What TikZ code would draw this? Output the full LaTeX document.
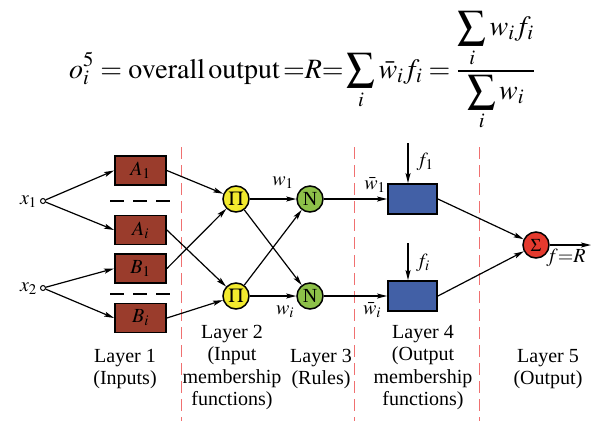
\documentclass[tikz,border=0pt]{standalone}
\usepackage{mathptmx}
\usepackage{fontspec}
\setmainfont{Liberation Serif}
\usetikzlibrary{arrows.meta}
\definecolor{brownfill}{RGB}{154,60,44}
\definecolor{bluefill}{RGB}{66,96,166}
\definecolor{yellowfill}{RGB}{242,234,46}
\definecolor{greenfill}{RGB}{141,192,73}
\definecolor{redfill}{RGB}{229,58,46}
\definecolor{redline}{RGB}{240,112,112}
\begin{document}
\begin{tikzpicture}[x=1pt,y=-1pt,
  lbl/.style={font=\fontsize{20}{22.5}\selectfont, align=center, inner sep=0pt},
  layercap/.style={font=\fontsize{20}{22.5}\selectfont, align=center, inner sep=0pt, anchor=north},
  mbox/.style={draw=black, line width=1.8pt, fill=brownfill, minimum width=51pt, minimum height=29pt, inner sep=0pt, font=\fontsize{20}{22}\selectfont},
  obox/.style={draw=black, line width=1.8pt, fill=bluefill, minimum width=49pt, minimum height=30pt, inner sep=0pt},
  circ/.style={circle, draw=black, line width=1.5pt, minimum size=26pt, inner sep=0pt, font=\fontsize{20}{22}\selectfont},
  inpt/.style={circle, draw=black, line width=1pt, fill=white, minimum size=5pt, inner sep=0pt},
  conn/.style={line width=1.2pt, -{Stealth[length=10pt,width=5pt,inset=2pt]}},
  sepline/.style={dash pattern=on 14pt off 9pt, line width=1.2pt},
  layerline/.style={draw=redline, dash pattern=on 12pt off 6pt, line width=1pt}]
\useasboundingbox (0,0) rectangle (601,421);

% equation
\node[inner sep=0pt, font=\fontsize{28}{32}\selectfont] (eq) at (302,71)
  {$\displaystyle o_i^5 = \mathrm{overall\,output}\,{=}R{=}\sum_i \bar{w}_i f_i = \frac{\displaystyle\sum_i w_i f_i}{\displaystyle\sum_i w_i}$};

% layer separators
\coordinate (r1t) at (181,147); \coordinate (r1b) at (181,421);
\coordinate (r2t) at (354,147); \coordinate (r2b) at (354,421);
\coordinate (r3t) at (479,147); \coordinate (r3b) at (479,421);
\draw[layerline] (r1t) -- (r1b);
\draw[layerline] (r2t) -- (r2b);
\draw[layerline] (r3t) -- (r3b);

% inputs
\node[inpt] (x1) at (43,201) {};
\node[inpt] (x2) at (43,288) {};
\node[lbl, anchor=east] (x1l) at ([xshift=-3pt,yshift=-1pt]x1.west) {$x_1$};
\node[lbl, anchor=east] (x2l) at ([xshift=-3pt,yshift=-1pt]x2.west) {$x_2$};

% layer 1 boxes
\node[mbox] (A1) at (140.5,170.5) {$A_1$};
\node[mbox] (Ai) at (140.5,230) {$A_i$};
\node[mbox] (B1) at (140.5,268.5) {$B_1$};
\node[mbox] (Bi) at (140.5,318) {$B_i$};
\coordinate (s1a) at (110,201); \coordinate (s1b) at (174,201);
\coordinate (s2a) at (110,294); \coordinate (s2b) at (174,294);
\draw[sepline] (s1a) -- (s1b);
\draw[sepline] (s2a) -- (s2b);

% layer 2, 3
\node[circ, fill=yellowfill] (P1) at (236,199) {$\Pi$};
\node[circ, fill=yellowfill] (P2) at (236,296) {$\Pi$};
\node[circ, fill=greenfill] (N1) at (310,199) {N};
\node[circ, fill=greenfill] (N2) at (310,296) {N};

% layer 4
\node[obox] (O1) at (412.5,199) {};
\node[obox] (O2) at (412.5,296) {};
\coordinate (f1t) at (408,143);
\coordinate (fit) at (408,243);

% layer 5
\node[circ, fill=redfill, font=\fontsize{18}{20}\selectfont] (S) at (536,245) {$\Sigma$};
\coordinate (out) at (591,245);

% connectors
\draw[conn] (x1) -- (A1.west);
\draw[conn] (x1) -- (Ai.west);
\draw[conn] (x2) -- (B1.west);
\draw[conn] (x2) -- (Bi.west);
\draw[conn] (A1.east) -- (P1);
\draw[conn] (Ai.east) -- (P2);
\draw[conn] (B1.east) -- (P1);
\draw[conn] (Bi.east) -- (P2);
\draw[conn] (P1) -- (N1);
\draw[conn] (P1) -- (N2);
\draw[conn] (P2) -- (N1);
\draw[conn] (P2) -- (N2);
\draw[conn] (N1) -- (O1);
\draw[conn] (N2) -- (O2);
\draw[conn] (f1t) -- (f1t |- O1.north);
\draw[conn] (fit) -- (fit |- O2.north);
\draw[conn] (O1.east) -- (S);
\draw[conn] (O2.east) -- (S);
\draw[conn] (S) -- (out);

% labels
\node[lbl] (w1) at (283,183) {$w_1$};
\node[lbl] (wi) at (285,312) {$w_i$};
\node[lbl] (wb1) at (375,185) {$\bar{w}_1$};
\node[lbl] (wbi) at (372,310) {$\bar{w}_i$};
\node[lbl] (f1) at (425,162) {$f_1$};
\node[lbl] (fi) at (423,263) {$f_i$};
\node[lbl] (fR) at (566,258) {$f{=}R$};

% layer captions (north anchor placed so first baseline matches)
\node[layercap] (L1) at (125,349) {Layer 1\\(Inputs)};
\node[layercap] (L2) at (232,325) {Layer 2\\(Input\\membership\\functions)};
\node[layercap] (L3) at (321,349) {Layer 3\\(Rules)};
\node[layercap] (L4) at (423,325) {Layer 4\\(Output\\membership\\functions)};
\node[layercap] (L5) at (548,349) {Layer 5\\(Output)};
\end{tikzpicture}
\end{document}
